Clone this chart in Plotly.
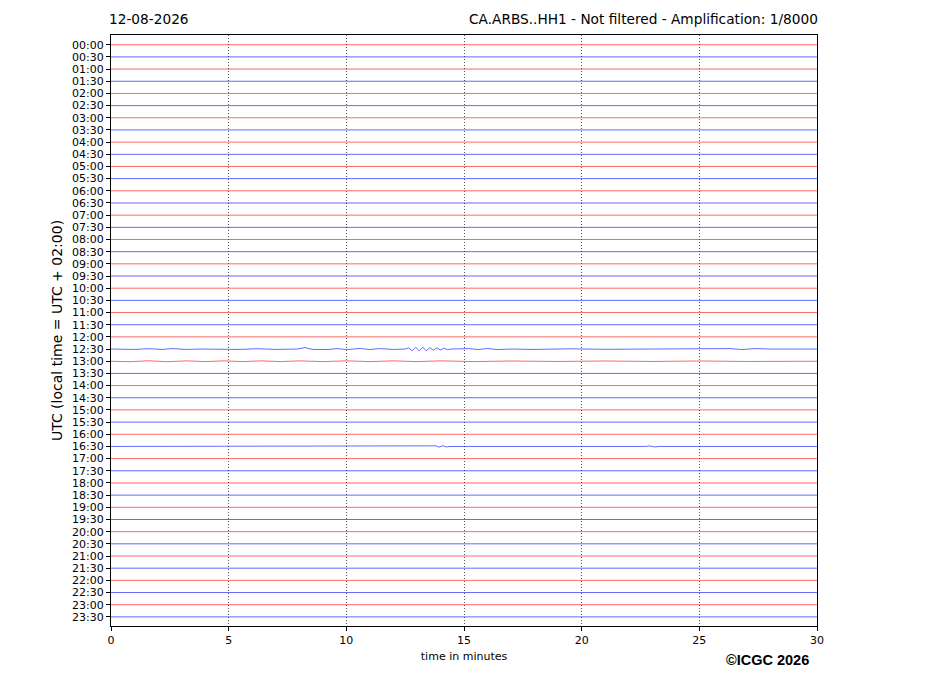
import plotly.graph_objects as go

# row labels (one trace every 30 min)
row_labels = [
    "00:00", "00:30", "01:00", "01:30", "02:00", "02:30", "03:00", "03:30",
    "04:00", "04:30", "05:00", "05:30", "06:00", "06:30", "07:00", "07:30",
    "08:00", "08:30", "09:00", "09:30", "10:00", "10:30", "11:00", "11:30",
    "12:00", "12:30", "13:00", "13:30", "14:00", "14:30", "15:00", "15:30",
    "16:00", "16:30", "17:00", "17:30", "18:00", "18:30", "19:00", "19:30",
    "20:00", "20:30", "21:00", "21:30", "22:00", "22:30", "23:00", "23:30",
]
x_ticks = [0, 5, 10, 15, 20, 25, 30]

# visible wiggles (minutes, offset in trace units, + is down)
wave_1230_t = [0.0, 1.0, 1.6, 2.2, 2.6, 3.2, 3.8, 5.5, 6.2, 7.0, 7.9, 8.1, 8.25, 8.4, 8.6,
               9.2, 9.6, 10.0, 10.6, 11.0, 11.4, 12.0, 12.5, 12.65, 12.8, 12.95, 13.1,
               13.25, 13.4, 13.55, 13.7, 13.85, 14.0, 14.15, 14.3, 14.45, 15.2, 15.6,
               16.0, 16.4, 17.0, 18.0, 19.5, 21.0, 23.0, 25.0, 26.3, 26.8, 27.4, 28.0, 30.0]
wave_1230_v = [0.0, 0.03, -0.03, 0.03, -0.04, 0.03, 0.0, 0.03, -0.03, 0.03, 0.0, -0.07, -0.12,
               -0.04, 0.03, 0.04, -0.04, 0.04, -0.05, 0.04, -0.04, 0.03, 0.0, -0.1, 0.14,
               -0.14, 0.15, -0.14, 0.13, -0.12, 0.1, -0.1, 0.08, -0.07, 0.05, 0.0, -0.04,
               0.04, -0.05, 0.04, 0.0, 0.03, -0.02, 0.02, -0.02, 0.0, -0.04, 0.04, -0.04, 0.0, 0.0]
wave_1300_t = [0.0, 0.8, 1.6, 2.4, 3.2, 4.0, 4.8, 5.6, 6.4, 7.2, 8.0, 9.0, 10.0, 11.0,
               12.0, 13.0, 14.0, 15.5, 17.0, 19.0, 21.0, 23.0, 25.0, 27.0, 30.0]
wave_1300_v = [0.0, 0.04, -0.04, 0.04, -0.03, 0.03, -0.03, 0.03, -0.03, 0.03, -0.03, 0.03,
               -0.03, 0.03, -0.03, 0.03, -0.03, 0.03, -0.02, 0.02, -0.02, 0.02, -0.02, 0.02, 0.0]
wave_1630_t = [0.0, 13.6, 13.8, 13.95, 14.1, 14.25, 14.4, 22.7, 22.9, 23.1, 23.3, 30.0]
wave_1630_v = [0.0, 0.0, -0.05, 0.05, -0.06, 0.04, 0.0, 0.0, -0.04, 0.04, 0.0, 0.0]
wave_1800_t = [0.0, 9.0, 9.6, 10.4, 11.0, 30.0]
wave_1800_v = [0.0, 0.0, 0.05, 0.05, 0.0, 0.0]

waves = {
    "12:30": (wave_1230_t, wave_1230_v),
    "13:00": (wave_1300_t, wave_1300_v),
    "16:30": (wave_1630_t, wave_1630_v),
    "18:00": (wave_1800_t, wave_1800_v),
}

fig = go.Figure()
for i, lab in enumerate(row_labels):
    t, v = waves.get(lab, ([0, 30], [0, 0]))
    color = "rgba(255,0,0,0.75)" if i % 2 == 0 else "rgba(0,0,255,0.75)"
    fig.add_trace(go.Scatter(
        x=t, y=[i + d for d in v], mode="lines",
        line=dict(color=color, width=0.8), showlegend=False, hoverinfo="skip",
    ))

font = "DejaVu Sans"
# page body adds an 8px margin, so the figure is 8px smaller on each side
fig.update_layout(
    width=919, height=688,
    margin=dict(l=103, r=110, t=27, b=70),
    paper_bgcolor="white", plot_bgcolor="white",
    font=dict(family=font, size=11, color="black"),
    xaxis=dict(
        range=[0, 30], tickvals=x_ticks, showgrid=True, gridcolor="#555",
        griddash="1px,2px", gridwidth=0.8, zeroline=False, automargin=False,
        layer="above traces",
        showline=True, linecolor="black", linewidth=1, mirror=True,
        ticks="outside", ticklen=4, tickcolor="black",
        title=dict(text="time in minutes", font=dict(size=11), standoff=6),
    ),
    yaxis=dict(
        range=[47.75, -0.8], tickvals=list(range(len(row_labels))), ticktext=row_labels,
        showgrid=False, zeroline=False, automargin=False,
        showline=True, linecolor="black", linewidth=1, mirror=True,
        ticks="outside", ticklen=4, tickcolor="black",
        title=dict(text="UTC (local time = UTC + 02:00)", font=dict(size=14), standoff=6),
    ),
    annotations=[
        dict(text="12-08-2026", xref="paper", yref="paper", x=-0.006, y=1,
             xanchor="left", yanchor="bottom", yshift=6, showarrow=False,
             font=dict(size=13.7)),
        dict(text="CA.ARBS..HH1 - Not filtered - Amplification: 1/8000", xref="paper",
             yref="paper", x=1.004, y=1, xanchor="right", yanchor="bottom", yshift=6,
             showarrow=False, font=dict(size=13.7)),
        dict(text="<b>©ICGC 2026</b>", xref="paper", yref="paper", x=0.9915, y=0,
             xanchor="right", yanchor="top", yshift=-24, showarrow=False,
             font=dict(family="Liberation Sans", size=14.5)),
    ],
)

fig.write_html("out.html")
